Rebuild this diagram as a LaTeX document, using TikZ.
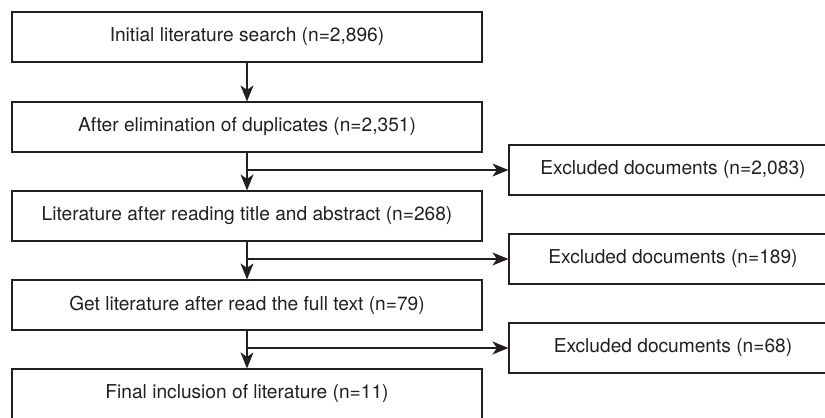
\documentclass[tikz,border=0pt]{standalone}
\usepackage{fontspec}
\setmainfont{TeX Gyre Heros}
\usepackage{xcolor}
\usetikzlibrary{arrows.meta,positioning}
\definecolor{inkgray}{HTML}{231F20}
\tikzset{
  stagebox/.style={draw=inkgray,text=inkgray,line width=0.7pt,minimum width=9.4cm,minimum height=1cm,inner sep=0pt,font=\fontsize{10.9}{12}\selectfont},
  dropbox/.style={stagebox,minimum width=6.56cm},
  flow/.style={draw=inkgray,line width=0.7pt,-{Stealth[length=3.2mm,width=2.6mm,inset=0.9mm]}}
}

\begin{document}
\begin{tikzpicture}[x=0.02cm,y=-0.02cm]
	\useasboundingbox (0,0) rectangle (825,417);
	% main stages
	\node[stagebox] (search) at (247,37) {Initial literature search (n=2,896)};
	\node[stagebox] (dedup) at (247,127) {After elimination of duplicates (n=2,351)};
	\node[stagebox] (title) at (247,216) {Literature after reading title and abstract (n=268)};
	\node[stagebox] (fulltext) at (247,305) {Get literature after read the full text (n=79)};
	\node[stagebox] (final) at (247,394) {Final inclusion of literature (n=11)};
	% excluded
	\node[dropbox] (excl1) at (673,170) {Excluded documents (n=2,083)};
	\node[dropbox] (excl2) at (673,259) {Excluded documents (n=189)};
	\node[dropbox] (excl3) at (673,348) {Excluded documents (n=68)};
	% arrows
	\draw[flow] (search) -- (dedup);
	\draw[flow] (dedup) -- (title);
	\draw[flow] (title) -- (fulltext);
	\draw[flow] (fulltext) -- (final);
	\draw[flow] (dedup.south |- excl1.west) -- (excl1.west);
	\draw[flow] (title.south |- excl2.west) -- (excl2.west);
	\draw[flow] (fulltext.south |- excl3.west) -- (excl3.west);
\end{tikzpicture}
\end{document}
